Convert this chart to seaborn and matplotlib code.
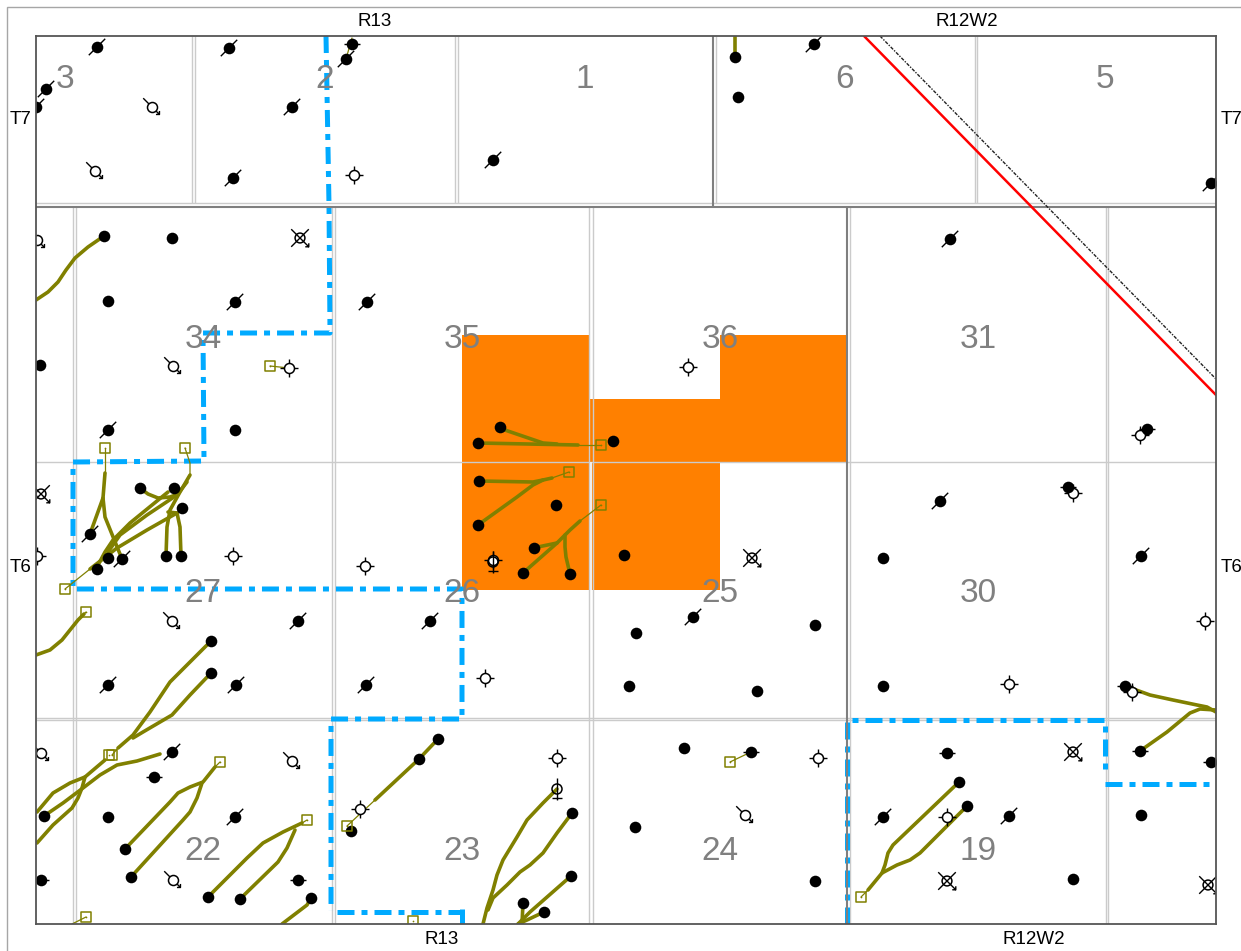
import matplotlib
matplotlib.use("Agg")
import matplotlib.pyplot as plt
from matplotlib.path import Path
from matplotlib.patches import Rectangle, Polygon
import seaborn as sns

sns.set_theme(style="white")
plt.rcParams["font.family"] = ["Liberation Sans", "DejaVu Sans"]

W, H = 1241, 951
X0, X1, Y0, Y1 = 36, 1216, 36, 924

# ---- map data, in map units ----
lease_outline = [(462,335),(589,335),(589,399),(720,399),(720,335),(847,335),(847,462),(720,462),(720,590),(462,590)]

light_v_top = [(192,36,203),(195,36,203),(455,36,203),(458,36,203),(716,36,203),(975,36,203),(977,36,203)]
dark_v_top = [(713,36,207)]
light_v_low = [(73,207,924),(76,207,924),(332,207,924),(335,207,924),(589,207,924),(592.5,207,924),(849.5,207,924),(1105.5,207,924),(1108,207,924)]
dark_v_low = [(847,207,924)]
light_h = [(203,36,1216),(462,36,1216),(717.5,36,1216),(720,36,1216)]
dark_h = [(207,36,1216)]

unit_a = [(326,36),(329,205),(330,333),(203,333),(204,461),(73,462),(73,589),(462,589),(462,719),(331,719),(331,911)]
unit_a2 = [(337,912),(462,912)]
unit_a3 = [(462,909),(462,924)]
unit_b = [(847,924),(847,720),(1105,720),(1105,776)]
unit_c = [(1105,784),(1216,784)]

red_line = [(864,36),(1216,395)]
black_line = [(880,36),(1216,379)]

thick_paths = [
    [(478,443),(578,445)], [(499,428),(543,443),(557,444)],
    [(479,481),(533,482),(543,480),(552,478)], [(478,525),(517,497),(533,485),(543,480)],
    [(580,521),(570,530),(565,535),(557,543),(523,573)], [(533,548),(557,543)], [(570,574),(566,557),(565,547),(565,535)],
    [(105,473),(103,498),(90,534)], [(103,498),(105,517),(122,559)],
    [(190,475),(180,492),(170,510),(167,527),(166,556)], [(168,512),(177,513),(180,527),(181,556)],
    [(140,488),(148,494),(158,498),(170,497),(178,494)],
    [(168,492),(130,523),(113,540),(105,552),(97,567)],
    [(187,482),(177,495),(147,515),(120,535),(108,552),(108,558)],
    [(177,513),(147,530),(117,548),(90,569)],
    [(104,236),(88,247),(75,258),(66,270),(58,282),(48,292),(36,300)], [(36,655),(50,650),(62,640),(78,620),(84,614)],
    [(211,641),(190,662),(170,682),(150,712),(133,735),(118,748)], [(211,673),(190,695),(172,715),(143,732),(133,738)],
    [(105,760),(85,777),(70,783),(53,793),(37,812)], [(85,777),(82,788),(78,798),(72,808),(53,825),(37,843)],
    [(44,816),(63,803),(83,788),(100,775),(117,765),(137,761),(160,754)],
    [(215,767),(203,782),(190,787),(178,793),(170,802),(125,849)], [(202,783),(197,798),(190,812),(183,820),(131,877)],
    [(302,823),(283,832),(263,843),(247,858),(208,897)], [(295,830),(287,848),(278,862),(240,899)],
    [(311,898),(307,905),(282,924)],
    [(438,739),(419,759),(375,800)],
    [(557,789),(543,803),(527,820),(517,837),(503,860),(497,875),(493,890),(487,908),(483,924)],
    [(572,813),(557,833),(543,853),(530,865),(520,872),(507,885),(493,898),(488,910)],
    [(571,876),(530,912),(518,924)], [(523,903),(522,924)], [(544,912),(527,920),(518,924)],
    [(868,890),(882,873),(885,865),(888,853),(893,845),(959,782)], [(882,873),(897,865),(910,860),(920,853),(967,806)],
    [(1125,686),(1150,695),(1173,700),(1197,705),(1207,707),(1216,712)], [(1140,751),(1167,732),(1190,713),(1200,709),(1216,710)],
    [(735,36),(735,57)],
]
thin_paths = [
    [(601,445),(578,445)], [(569,472),(552,478)], [(601,505),(580,521)],
    [(105,448),(105,473)], [(185,448),(190,463),(190,475)], [(65,589),(90,569)],
    [(86,612),(78,620)], [(112,755),(118,748)], [(375,800),(347,826)],
    [(861,897),(868,890)], [(270,366),(289,368)], [(730,762),(751,752)],
    [(346,59),(352,38)], [(86,917),(72,924)], [(220,762),(215,767)], [(307,820),(302,823)],
]

plain_x = [172,108,235,40,556,624,613,182,636,815,629,757,883,883,684,635,815,1073,1141,738,735,44,108,125,131,208,240,311,104,
           500,478,479,478,534,523,570,140,174,166,181,108,97,211,211,438,419,351,959,967,572,571,523,544]
plain_y = [238,301,430,365,505,555,441,508,633,625,686,691,558,686,748,827,881,879,815,97,57,816,817,849,877,897,899,898,236,
           427,443,481,525,548,573,574,488,488,556,556,558,569,641,673,739,759,831,782,806,813,876,903,912]
slash_x = [97,46,36,229,292,233,346,493,814,1211,235,367,950,108,90,122,298,430,693,108,236,366,940,1141,172,235,883,1009]
slash_y = [47,89,107,48,107,178,59,160,44,183,302,302,239,430,534,559,621,621,617,685,685,685,501,556,752,817,817,816]
dash_x = [352,1147,1068,751,947,154,298,41,1140,1211,1125]
dash_y = [44,429,487,752,753,777,880,880,751,762,686]
open_cross_x = [354,289,688,233,365,493,485,1009,557,360,818,1140,1073,1205,1132,947,37]
open_cross_y = [175,368,367,556,566,560,678,684,758,809,758,435,493,621,692,817,556]
open_arrow_x = [152,95,37,173,172,292,41,173,745]
open_arrow_y = [107,171,240,366,621,761,753,880,815]
cross_arrow_x = [300,41,752,1073,947,1208]
cross_arrow_y = [238,494,558,752,881,885]
vert_x = [557,493]
vert_y = [789,562]
pad_x = [105,185,65,86,601,569,601,270,112,109,220,307,86,347,413,730,861]
pad_y = [448,448,589,612,445,472,505,366,755,755,762,820,917,826,921,762,897]

section_names = ["3","2","1","6","5","34","35","36","31","27","26","25","30","22","23","24","19"]
section_x = [65,325,585,845,1105,203,462,720,978,203,462,720,978,203,462,720,978]
section_y = [80,80,80,80,80,339,339,339,339,593,593,593,593,851,851,851,851]
top_labels = ["R13","R12W2"]
top_x = [375,967]
bottom_labels = ["R13","R12W2"]
bottom_x = [442,1034]
left_labels = ["T7","T6"]
left_y = [120,567]

ORANGE = "#FF8000"
BLUE = "#00AAFF"
OLIVE = "#808000"
GRID = "#CBCBCB"
DARK = "#7F7F7F"
BLACK = "#000000"

fig = plt.figure(figsize=(W/100, H/100), dpi=100)
ax = fig.add_axes([X0/W, 1-Y1/H, (X1-X0)/W, (Y1-Y0)/H])
ax.set_xlim(X0, X1)
ax.set_ylim(Y1, Y0)
ax.set_xticks([]); ax.set_yticks([])
ax.set_xlabel(""); ax.set_ylabel("")
for s in ax.spines.values():
    s.set_color("#555555"); s.set_linewidth(1.3); s.set_zorder(20)

fig.add_artist(Rectangle((7/W, -0.02), 1.1, 1.02-7/H, transform=fig.transFigure,
                         fill=False, ec="#A6A6A6", lw=1.0))

ax.add_patch(Polygon(lease_outline, closed=True, fc=ORANGE, ec="none", zorder=1))

for (x, a, b) in light_v_top + light_v_low:
    ax.vlines(x, a, b, color=GRID, lw=1.0, zorder=1.2)
for (y, a, b) in light_h:
    ax.hlines(y, a, b, color=GRID, lw=1.0, zorder=1.2)
ax.vlines(590.8, 462, 590, color="#EEEEEE", lw=1.6, zorder=1.2)
for (x, a, b) in dark_v_top + dark_v_low:
    ax.vlines(x, a, b, color=DARK, lw=1.5, zorder=2)
for (y, a, b) in dark_h:
    ax.hlines(y, a, b, color=DARK, lw=1.5, zorder=2)


def line(pts, color, lw, zorder, ls="-"):
    xs = [p[0] for p in pts]
    ys = [p[1] for p in pts]
    sns.lineplot(x=xs, y=ys, sort=False, estimator=None, color=color, linewidth=lw,
                 linestyle=ls, zorder=zorder, ax=ax, legend=False,
                 solid_joinstyle="round", solid_capstyle="round")


dashdot = (0, (3.4, 1.4, 1.2, 1.4))
for p in (unit_a, unit_a2, unit_a3, unit_b, unit_c):
    line(p, BLUE, 3.6, 1.5, dashdot)

line(red_line, "#FF0000", 1.8, 4)
line(black_line, "#222222", 1.0, 4, (0, (2.5, 1, 1, 1)))

for p in thin_paths:
    line(p, OLIVE, 0.9, 5)
for p in thick_paths:
    line(p, OLIVE, 2.6, 5)


def pts(x, y, marker, size, fc, ec, lw, z):
    sns.scatterplot(x=x, y=y, marker=marker, s=size, facecolor=fc, edgecolor=ec,
                    linewidth=lw, zorder=z, ax=ax, legend=False)


slash_tick = Path([(-1, -1), (1, 1)], [Path.MOVETO, Path.LINETO])
dash_tick = Path([(-1, 0), (1, 0)], [Path.MOVETO, Path.LINETO])
cross_tick = Path([(-1, 0), (1, 0), (0, -1), (0, 1)],
                  [Path.MOVETO, Path.LINETO, Path.MOVETO, Path.LINETO])
arrow_tick = Path([(-1, 1), (0.85, -0.85), (0.85, -0.45), (0.85, -0.85), (0.45, -0.85)],
                  [Path.MOVETO, Path.LINETO, Path.LINETO, Path.MOVETO, Path.LINETO])
x_arrow_tick = Path([(-1, 1), (1, -1), (1, -0.6), (1, -1), (0.6, -1), (-1, -1), (1, 1)],
                    [Path.MOVETO, Path.LINETO, Path.LINETO, Path.MOVETO, Path.LINETO, Path.MOVETO, Path.LINETO])
vert_tick = Path([(0, 1), (0, -1), (-0.45, -0.8), (0.45, -0.8)],
                 [Path.MOVETO, Path.LINETO, Path.MOVETO, Path.LINETO])

pts(cross_arrow_x, cross_arrow_y, x_arrow_tick, 160, "none", BLACK, 1.0, 6)
pts(cross_arrow_x, cross_arrow_y, "o", 50, "none", BLACK, 1.1, 6)
pts(open_arrow_x, open_arrow_y, arrow_tick, 160, "none", BLACK, 1.0, 6)
pts(open_arrow_x, open_arrow_y, "o", 52, "white", BLACK, 1.1, 6.1)
pts(open_cross_x, open_cross_y, cross_tick, 168, "none", BLACK, 1.0, 6)
pts(open_cross_x, open_cross_y, "o", 52, "white", BLACK, 1.1, 6.1)
pts(vert_x, vert_y, vert_tick, 250, "none", BLACK, 1.0, 6.2)
pts(vert_x, vert_y, "o", 52, "none", BLACK, 1.1, 6.2)

pts(slash_x, slash_y, slash_tick, 140, "none", BLACK, 1.0, 7)
pts(dash_x, dash_y, dash_tick, 140, "none", BLACK, 1.0, 7)
pts(plain_x + slash_x + dash_x, plain_y + slash_y + dash_y, "o", 70, BLACK, BLACK, 0, 7.1)

pts(pad_x, pad_y, "s", 52, "none", OLIVE, 1.1, 8)
pts(pad_x, pad_y, "o", 1.5, OLIVE, OLIVE, 0, 8)

for name, x, y in zip(section_names, section_x, section_y):
    ax.text(x, y, name, fontsize=24, color="#808080", ha="center", va="center", zorder=9)
for name, x in zip(top_labels, top_x):
    ax.text(x, 22, name, fontsize=13.5, color=BLACK, ha="center", va="center", clip_on=False, zorder=9)
for name, x in zip(bottom_labels, bottom_x):
    ax.text(x, 940, name, fontsize=13.5, color=BLACK, ha="center", va="center", clip_on=False, zorder=9)
for name, y in zip(left_labels, left_y):
    ax.text(32, y, name, fontsize=13.5, color=BLACK, ha="right", va="center", clip_on=False, zorder=9)
    ax.text(1221, y, name, fontsize=13.5, color=BLACK, ha="left", va="center", clip_on=False, zorder=9)

fig.savefig("out.png", dpi=100)
